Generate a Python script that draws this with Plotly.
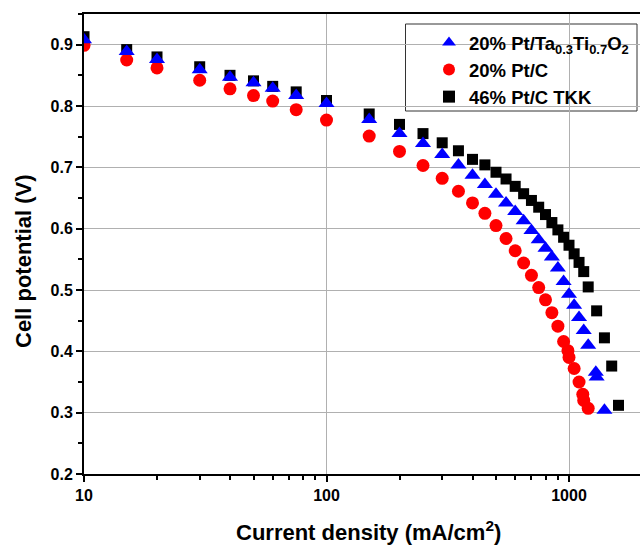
import plotly.graph_objects as go

# Current density (mA/cm^2) and cell potential (V)
x_tkk = [10, 15, 20, 30, 40, 50, 60, 75, 100, 150, 200, 250, 300, 350, 400, 450,
         500, 550, 600, 650, 700, 750, 800, 850, 900, 950, 1000, 1050, 1100, 1150,
         1200, 1300, 1400, 1500, 1600]
y_tkk = [0.913, 0.892, 0.880, 0.864, 0.850, 0.841, 0.832, 0.823, 0.809, 0.787, 0.770,
         0.755, 0.740, 0.727, 0.713, 0.704, 0.692, 0.681, 0.669, 0.657, 0.646, 0.635,
         0.623, 0.610, 0.598, 0.586, 0.573, 0.559, 0.545, 0.530, 0.505, 0.466, 0.422,
         0.376, 0.312]

x_ptc = [10, 15, 20, 30, 40, 50, 60, 75, 100, 150, 200, 250, 300, 350, 400, 450,
         500, 550, 600, 650, 700, 750, 800, 850, 900, 950, 990, 1000, 1050, 1100,
         1140, 1150, 1200]
y_ptc = [0.899, 0.875, 0.862, 0.842, 0.828, 0.817, 0.808, 0.794, 0.777, 0.751, 0.726,
         0.703, 0.682, 0.661, 0.642, 0.625, 0.605, 0.584, 0.564, 0.544, 0.524, 0.504,
         0.484, 0.463, 0.441, 0.416, 0.401, 0.390, 0.372, 0.350, 0.330, 0.320, 0.307]

x_tto = [10, 15, 20, 30, 40, 50, 60, 75, 100, 150, 200, 250, 300, 350, 400, 450,
         500, 550, 600, 650, 700, 750, 800, 850, 900, 950, 1000, 1050, 1100, 1150,
         1200, 1290, 1300, 1400]
y_tto = [0.908, 0.889, 0.876, 0.859, 0.847, 0.838, 0.829, 0.817, 0.804, 0.778, 0.755,
         0.739, 0.721, 0.704, 0.687, 0.672, 0.656, 0.642, 0.628, 0.613, 0.597, 0.582,
         0.568, 0.554, 0.536, 0.514, 0.493, 0.475, 0.455, 0.434, 0.410, 0.366, 0.358,
         0.304]

names = ["20% Pt/Ta<sub>0.3</sub>Ti<sub>0.7</sub>O<sub>2</sub>", "20% Pt/C", "46% Pt/C TKK"]
x_title = "<b>Current density (mA/cm<sup>2</sup>)</b>"
y_title = "<b>Cell potential (V)</b>"

y_ticks = [0.2, 0.3, 0.4, 0.5, 0.6, 0.7, 0.8, 0.9]
x_ticks = [10, 100, 1000]
x_minor = [v * m for v in (10, 100) for m in range(2, 10)] + [2000]

font_family = "Liberation Sans, Arial, sans-serif"

fig = go.Figure()
fig.add_trace(go.Scatter(x=x_tkk, y=y_tkk, mode="markers", name=names[2], legendrank=3,
                         marker=dict(symbol="square", size=11, color="black", line=dict(width=0))))
fig.add_trace(go.Scatter(x=x_ptc, y=y_ptc, mode="markers", name=names[1], legendrank=2,
                         marker=dict(symbol="circle", size=13, color="#ff0000", line=dict(width=0))))
fig.add_trace(go.Scatter(x=x_tto, y=y_tto, mode="markers", name=names[0], legendrank=1,
                         marker=dict(symbol="triangle-up", size=14, color="#0000ff", line=dict(width=0))))

# legend frame (white box hiding gridlines)
fig.add_shape(type="rect", xref="paper", yref="paper",
              x0=(405.5 - 84) / 556, x1=(637 - 84) / 556,
              y0=1 - (111 - 14) / 460, y1=1 - (24 - 14) / 460,
              line=dict(color="#333333", width=1), fillcolor="white", layer="between")

# axis titles
fig.add_annotation(text=x_title, xref="paper", yref="paper",
                   x=(368 - 84) / 556, y=(474 - 531) / 460,
                   xanchor="center", yanchor="middle", showarrow=False,
                   font=dict(size=22, family=font_family, weight="bold", color="black"))
fig.add_annotation(text=y_title, xref="paper", yref="paper", textangle=-90,
                   x=(23 - 84) / 556, y=(474 - 261) / 460,
                   xanchor="center", yanchor="middle", showarrow=False,
                   font=dict(size=22, family=font_family, weight="bold", color="black"))

fig.update_layout(
    width=640, height=547,
    margin=dict(l=84, r=0, t=14, b=73),
    paper_bgcolor="white", plot_bgcolor="white",
    font=dict(family=font_family, color="black", size=16, weight="bold"),
    showlegend=True,
    legend=dict(x=(429 - 84) / 556, y=1 - (24 - 14) / 460, xanchor="left", yanchor="top",
                bgcolor="rgba(0,0,0,0)", borderwidth=0,
                font=dict(size=18.5, family=font_family, weight="bold"),
                tracegroupgap=0, itemsizing="constant"),
    xaxis=dict(
        type="log", range=[1, 1 + 556 / 242.5],
        tickvals=x_ticks, ticktext=[str(v) for v in x_ticks],
        ticks="outside", ticklen=6, tickwidth=2, tickcolor="black",
        showline=True, linecolor="black", linewidth=2, mirror=True,
        showgrid=True, gridcolor="#b0b0b0", gridwidth=1,
        minor=dict(tickvals=x_minor, ticks="outside", ticklen=4, tickwidth=2,
                   tickcolor="black", showgrid=False),
        tickfont=dict(size=16, family=font_family, weight="bold"),
        zeroline=False,
    ),
    yaxis=dict(
        range=[0.2, 0.95],
        tickvals=y_ticks, ticktext=[f"{v:.1f}" for v in y_ticks],
        ticks="outside", ticklen=6, tickwidth=2, tickcolor="black",
        showline=True, linecolor="black", linewidth=2, mirror=False,
        showgrid=True, gridcolor="#b0b0b0", gridwidth=1,
        minor=dict(dtick=0.05, ticks="outside", ticklen=4, tickwidth=2,
                   tickcolor="black", showgrid=False),
        tickfont=dict(size=16, family=font_family, weight="bold"),
        zeroline=False,
    ),
)

fig.write_html("out.html")
